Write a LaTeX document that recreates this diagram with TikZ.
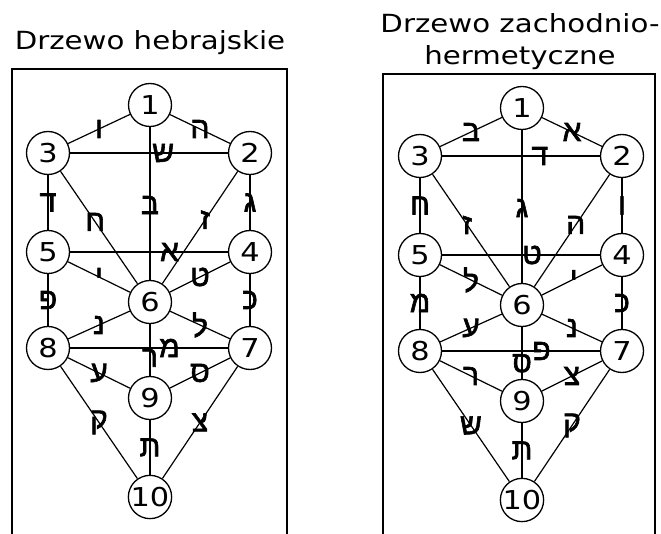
\documentclass[tikz,border=0pt]{standalone}
\usepackage{fontspec}
\setmainfont{DejaVu Sans}[FakeStretch=1.17]
\newfontfamily\hebr{Liberation Sans}[Script=Hebrew,FakeBold=2]

\tikzset{
	title/.style={font=\fontsize{25}{32}\selectfont,inner sep=0pt},
	sefira/.style={circle,draw,line width=1.3pt,fill=white,minimum size=43pt,inner sep=0pt,font=\fontsize{26}{26}\selectfont},
	letter/.style={font=\hebr\fontsize{30}{30}\selectfont,inner sep=0pt},
	frame/.style={line width=2pt}
}

\begin{document}
\begin{tikzpicture}[x=1pt,y=-1pt,line width=1.2pt]
\useasboundingbox (0,0) rectangle (661,534);
\node[title,anchor=base] (lefttitle) at (150,50) {Drzewo hebrajskie};
\node[title,anchor=base,align=center] (righttitle) at (520,65) {Drzewo zachodnio-\\hermetyczne};
\draw[frame] (12,534) -- (12,69) -- (287,69) -- (287,534);
\draw[frame] (383,534) -- (383,74) -- (655,74) -- (655,534);
\foreach \n/\x/\y in {1/150/105,2/250/153,3/48/153,4/250/252,5/48/252,6/150/302,7/250/348,8/48/348,9/150/398,10/150/497}{
	\node[sefira] (h\n) at (\x,\y) {\n};
	\node[sefira] (w\n) at (\x+372,\y+3) {\n};
}
\foreach \a/\b/\l/\p in {1/3/ו/.5,1/2/ה/.5,1/6/ב/.51,3/2/ש/.59,3/5/ד/.5,3/6/ח/.45,2/4/ג/.5,2/6/ז/.43,
	5/4/א/.63,5/6/י/.5,4/6/ט/.5,5/8/פ/.5,4/7/כ/.5,8/6/נ/.5,7/6/ל/.5,8/7/מ/.63,
	6/9/ר/.65,8/9/ע/.5,7/9/ס/.5,8/10/ק/.5,7/10/צ/.5,9/10/ת/.5}
	\draw (h\a) -- node[letter,pos=\p] {\l} (h\b);
\foreach \a/\b/\l/\p in {1/2/א/.5,1/3/ב/.5,1/6/ג/.51,3/2/ד/.62,2/6/ה/.45,2/4/ו/.5,3/6/ז/.45,3/5/ח/.5,
	5/4/ט/.57,4/6/י/.47,4/7/כ/.5,5/6/ל/.5,5/8/מ/.5,6/7/נ/.5,6/9/ס/.7,8/6/ע/.5,
	8/7/פ/.63,7/9/צ/.5,7/10/ק/.5,8/9/ר/.5,8/10/ש/.5,9/10/ת/.5}
	\draw (w\a) -- node[letter,pos=\p] {\l} (w\b);
\end{tikzpicture}
\end{document}
